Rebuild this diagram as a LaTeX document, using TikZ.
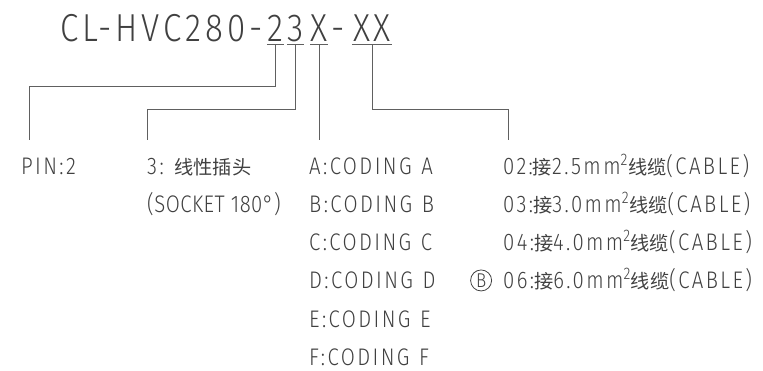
\documentclass[tikz,border=0pt]{standalone}
\usepackage{fontspec}
\setmainfont{Fira Sans Light}[LetterSpace=10,FakeStretch=0.85]
\newfontfamily\zhfont{Noto Sans CJK SC}[Scale=0.8]
\usetikzlibrary{positioning}
\definecolor{inkgray}{RGB}{64,64,64}
\definecolor{linegray}{RGB}{96,96,96}
\newcommand{\zh}[1]{{\zhfont #1}}
\tikzset{font=\fontsize{24}{27}\selectfont}
\tikzset{
  codepart/.style={anchor=base,inner xsep=0pt,inner ysep=2pt,text depth=0pt,
    font=\fontsize{39}{41}\selectfont},
  item/.style={anchor=base west,inner sep=0pt},
  leader/.style={draw=linegray,line width=0.8pt},
}

\begin{document}
\begin{tikzpicture}[x=1pt,y=-1pt,text=inkgray]
  \useasboundingbox (0,0) rectangle (763,371);

  % part number
  \node[codepart,anchor=base east] (pre) at (263,42) {CL-HVC280-};
  \node[codepart,minimum width=17pt] (c2) at (275.5,42) {2};
  \node[codepart,minimum width=15pt] (c3) at (295.5,42) {3};
  \node[codepart,minimum width=17pt] (cx) at (319,42) {X};
  \node[codepart] (dash) at (338,42) {-};
  \node[codepart,minimum width=40pt] (cxx) at (372,42) {XX};
  \foreach \c in {c2,c3,cx,cxx}
    \draw[leader] (\c.south west) -- (\c.south east);

  % leader ends
  \coordinate (e2) at (29,140);
  \coordinate (e3) at (147.3,140);
  \coordinate (ex) at (cx.south |- e2);
  \coordinate (exx) at (508.3,140);

  \draw[leader] (c2.south) -- ++(0,42.7) -| (e2);
  \draw[leader] (c3.south) -- ++(0,65) -| (e3);
  \draw[leader] (cx.south) -- (ex);
  \draw[leader] (cxx.south) -- ++(0,65) -| (exx);

  % pin count
  \node[item] (pin) at (21,175) {PIN:2};

  % socket type
  \node[item] (sock) at (147,175) {3:\hspace{0.45em}\zh{线性插头}};
  \node[item] (sockdeg) at (147,213) {\addfontfeatures{LetterSpace=2}(SOCKET 180°)};

  % coding
  \foreach \l [count=\i from 0] in {A,B,C,D,E,F}
    \node[item] (cod\l) at (309,175+38*\i) {\l:CODING\hspace{0.4em}\l};

  % cable size
  \foreach \n/\sz [count=\i from 0] in {02/2.5,03/3.0,04/4.0,06/6.0}
    \node[item] (cab\n) at (503,175+38*\i) {\n:\zh{接}\sz mm\textsuperscript{2}\zh{线缆}(CABLE)};
  \node[circle,draw=inkgray,line width=0.8pt,inner sep=0pt,minimum size=21pt,
    font=\fontsize{20}{20}\selectfont,left=11pt of cab06.west] (mark) {B};
\end{tikzpicture}
\end{document}
